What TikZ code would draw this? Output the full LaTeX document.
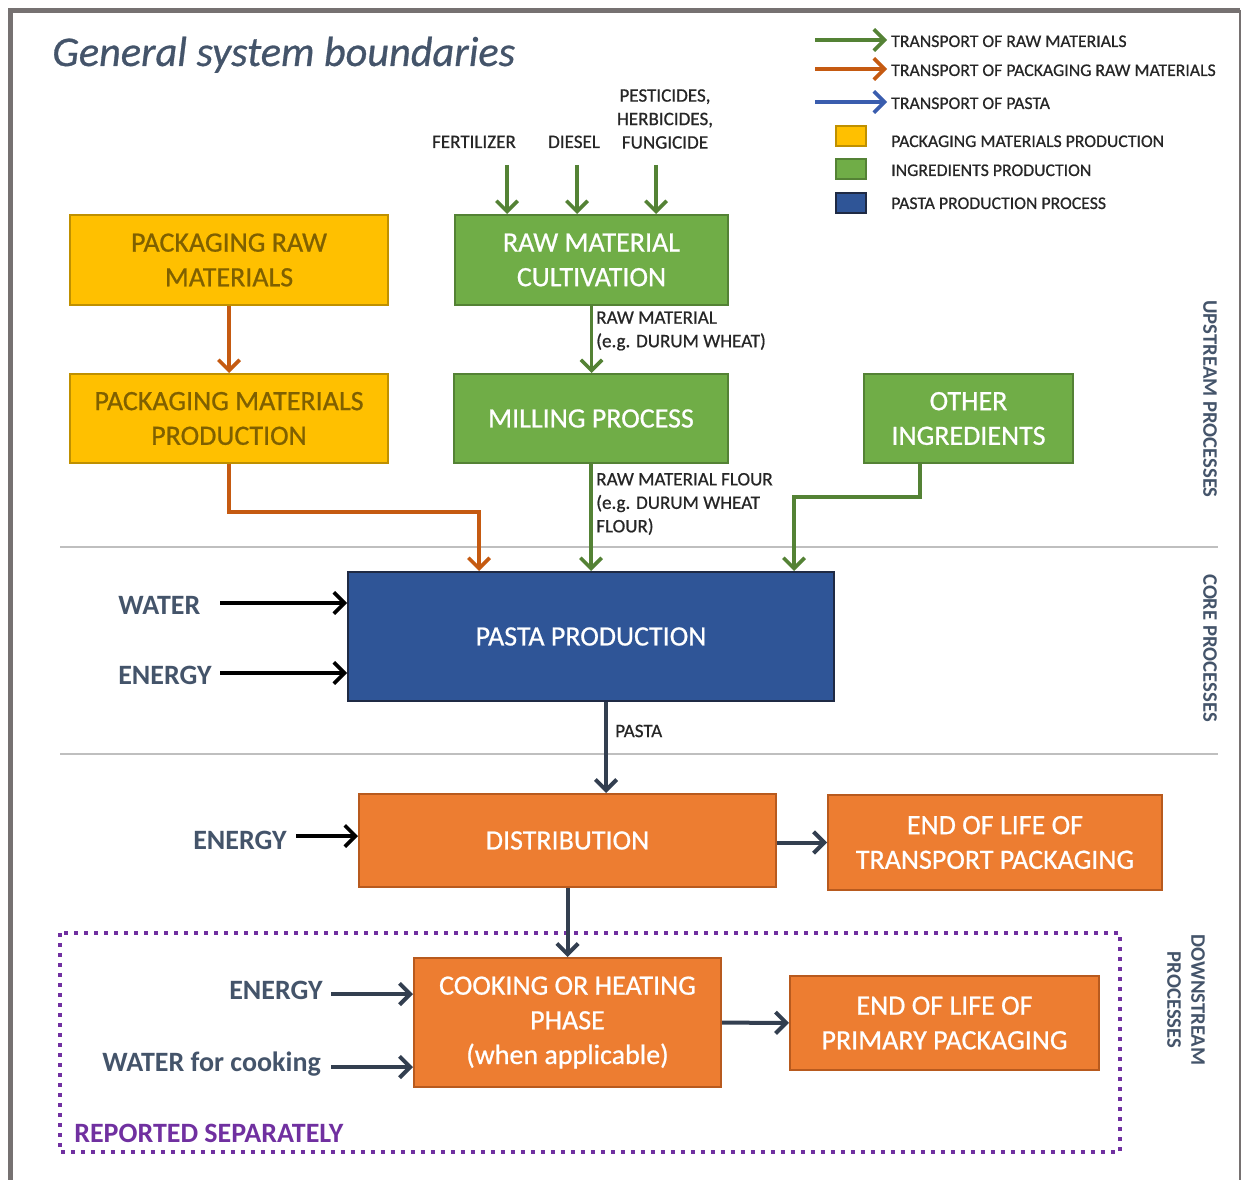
\documentclass[tikz,border=0pt]{standalone}
\usepackage{fontspec}
\setmainfont{Carlito}
\newfontfamily\heavyfont{Carlito}[FakeBold=0.7]
\usetikzlibrary{arrows.meta}

\definecolor{gfill}{HTML}{70AD47}
\definecolor{gline}{HTML}{548235}
\definecolor{yfill}{HTML}{FFC000}
\definecolor{yline}{HTML}{BF9000}
\definecolor{ytext}{HTML}{7F6000}
\definecolor{bfill}{HTML}{2F5597}
\definecolor{bline}{HTML}{1F2A44}
\definecolor{ofill}{HTML}{ED7D31}
\definecolor{oline}{HTML}{B85A1E}
\definecolor{orline}{HTML}{C55A11}
\definecolor{legblue}{HTML}{3A5DAE}
\definecolor{slate}{HTML}{333F50}
\definecolor{slatetext}{HTML}{44546A}
\definecolor{purp}{HTML}{7030A0}
\definecolor{sepgrey}{HTML}{BFBFBF}
\definecolor{framegrey}{HTML}{767171}
\definecolor{darktext}{HTML}{262626}

\tikzset{
  box/.style={draw, line width=1.5pt, inner sep=2pt, align=center, font=\heavyfont\fontsize{21}{26}\selectfont},
  ybox/.style={box, fill=yfill, draw=yline, text=ytext},
  gbox/.style={box, fill=gfill, draw=gline, text=white},
  bbox/.style={box, fill=bfill, draw=bline, text=white},
  obox/.style={box, fill=ofill, draw=oline, text=white},
  flow/.style={line width=2.7pt, -{Straight Barb[length=8pt,width=16pt]}},
  garrow/.style={flow, draw=gline},
  orarrow/.style={flow, draw=orline},
  blarrow/.style={flow, draw=legblue},
  blkarrow/.style={flow, draw=black},
  slarrow/.style={flow, draw=slate, line width=3pt},
  lbl/.style={inner sep=0pt, text=darktext, font=\heavyfont\fontsize{14.3}{17.6}\selectfont},
  leglbl/.style={anchor=base west, inner xsep=3pt, inner ysep=0pt, text=darktext, font=\heavyfont\fontsize{13.3}{16}\selectfont},
  legsq/.style={minimum width=22.5pt, minimum height=15pt, inner sep=0pt, line width=1.5pt},
  inlbl/.style={anchor=base west, inner sep=0pt, text=slatetext, font=\fontsize{21}{25}\selectfont\bfseries},
  sidelbl/.style={rotate=-90, inner sep=0pt, text=slatetext, font=\fontsize{15.5}{18}\selectfont\bfseries},
  sep/.style={draw=sepgrey, line width=2.2pt}
}

\begin{document}
\begin{tikzpicture}[x=0.75pt,y=0.75pt,yscale=-1,xscale=1]
\useasboundingbox (0,0) rectangle (1242,1180);

% Frame
\draw [framegrey, line width=3.75pt] (10,1182) -- (10,10.5) -- (1240,10.5);
\draw [framegrey, line width=1.2pt] (1240,10) -- (1240,1182);

% Title
\node [anchor=base west, inner sep=0pt, text=slatetext, font=\heavyfont\fontsize{31.7}{36}\selectfont\itshape] (title) at (52,66) {General system boundaries};

% Legend
\node [leglbl] (lt1) at (887,47) {TRANSPORT OF RAW MATERIALS};
\node [leglbl] (lt2) at (887,76) {TRANSPORT OF PACKAGING RAW MATERIALS};
\node [leglbl] (lt3) at (887,109) {TRANSPORT OF PASTA};
\node [leglbl] (lt4) at (887,147) {PACKAGING MATERIALS PRODUCTION};
\node [leglbl] (lt5) at (887,176) {INGREDIENTS PRODUCTION};
\node [leglbl] (lt6) at (887,209) {PASTA PRODUCTION PROCESS};
\coordinate (la1) at (815,40);
\coordinate (la2) at (815,69);
\coordinate (la3) at (815,102);
\draw [garrow] (la1) -- (la1 -| lt1.west);
\draw [orarrow] (la2) -- (la2 -| lt2.west);
\draw [blarrow] (la3) -- (la3 -| lt3.west);
\node [legsq, fill=yfill, draw=yline] (ls1) at (851,136) {};
\node [legsq, fill=gfill, draw=gline] (ls2) at (851,169.5) {};
\node [legsq, fill=bfill, draw=bline] (ls3) at (851,203) {};

% Separators
\draw [sep] (60,547) -- (1218,547);
\draw [sep] (60,754) -- (1218,754);

% Reported separately
\draw [purp, line width=3pt, dash pattern=on 3pt off 4.5pt] (60,933) rectangle (1120,1152);
\node [inlbl, text=purp] (repsep) at (74,1142) {REPORTED SEPARATELY};

% Inputs to cultivation
\node [lbl, anchor=base] (fert) at (474,148) {FERTILIZER};
\node [lbl, anchor=base] (dies) at (574,148) {DIESEL};
\node [lbl, align=center] (pest) at (665,119) {PESTICIDES,\\HERBICIDES,\\FUNGICIDE};

% Boxes
\node [ybox, minimum width=238.5pt, minimum height=67.5pt] (pkgraw) at (229,260) {PACKAGING RAW\\MATERIALS};
\node [gbox, minimum width=204.75pt, minimum height=67.5pt] (cultiv) at (591.5,260) {RAW MATERIAL\\CULTIVATION};
\node [ybox, minimum width=238.5pt, minimum height=66.75pt] (pkgprod) at (229,418.5) {PACKAGING MATERIALS\\PRODUCTION};
\node [gbox, minimum width=205.5pt, minimum height=66.75pt] (milling) at (591,418.5) {MILLING PROCESS};
\node [gbox, minimum width=156.75pt, minimum height=66.75pt] (other) at (968.5,418.5) {OTHER\\INGREDIENTS};
\node [bbox, minimum width=364.5pt, minimum height=96.75pt] (pasta) at (591,636.5) {PASTA PRODUCTION};
\node [obox, minimum width=312.75pt, minimum height=69.75pt] (distr) at (567.5,840.5) {DISTRIBUTION};
\node [obox, minimum width=250.5pt, minimum height=71.25pt] (eolt) at (995,842.5) {END OF LIFE OF\\TRANSPORT PACKAGING};
\node [obox, minimum width=230.25pt, minimum height=96.75pt] (cook) at (567.5,1022.5) {COOKING OR HEATING\\PHASE\\(when applicable)};
\node [obox, minimum width=231.75pt, minimum height=70.5pt] (eolp) at (944.5,1023) {END OF LIFE OF\\PRIMARY PACKAGING};

% Upstream connectors
\coordinate (fin) at (507,165);
\coordinate (din) at (577,165);
\coordinate (pin) at (656,165);
\draw [garrow] (fin) -- (fin |- cultiv.north);
\draw [garrow] (din) -- (din |- cultiv.north);
\draw [garrow] (pin) -- (pin |- cultiv.north);
\draw [orarrow] (pkgraw) -- (pkgprod);
\draw [garrow] (cultiv.south) -- (cultiv.south |- milling.north);
\draw [garrow] (milling) -- (pasta);
\coordinate (pk) at (479,512);
\draw [orarrow] (pkgprod.south) |- (pk) -- (pk |- pasta.north);
\coordinate (oi) at (920,497);
\coordinate (oj) at (794,497);
\draw [garrow] (other.south -| oi) -- (oi) -- (oj) -- (oj |- pasta.north);
\node [lbl, anchor=west, align=left] (rawlbl) at (596,331) {RAW MATERIAL\\(e.g. DURUM WHEAT)};
\node [lbl, anchor=west, align=left] (flourlbl) at (596,504) {RAW MATERIAL FLOUR\\(e.g. DURUM WHEAT\\FLOUR)};

% Core inputs
\node [inlbl] (water) at (118,614) {WATER};
\node [inlbl] (energya) at (118,684) {ENERGY};
\coordinate (wa) at (220,603);
\coordinate (ea) at (220,673);
\draw [blkarrow] (wa) -- (wa -| pasta.west);
\draw [blkarrow] (ea) -- (ea -| pasta.west);

% Downstream connectors
\coordinate (pd) at (606,701);
\draw [slarrow] (pd |- pasta.south) -- (pd |- distr.north);
\node [lbl, anchor=west] (pastalbl) at (615,731) {PASTA};
\node [inlbl] (energyb) at (193,849) {ENERGY};
\coordinate (eb) at (296,836);
\draw [blkarrow] (eb) -- (eb -| distr.west);
\draw [slarrow] (distr.east |- eolt) -- (eolt.west);
\draw [slarrow] (distr) -- (cook);
\draw [slarrow] (cook) -- (eolp);
\node [inlbl] (energyc) at (229,999) {ENERGY};
\node [inlbl] (waterc) at (102,1071) {WATER for cooking};
\coordinate (ec) at (331,994);
\coordinate (wc) at (331,1067);
\draw [slarrow] (ec) -- (ec -| cook.west);
\draw [slarrow] (wc) -- (wc -| cook.west);

% Side labels
\node [sidelbl] (ups) at (1210,399) {UPSTREAM PROCESSES};
\node [sidelbl] (core) at (1210,648) {CORE PROCESSES};
\node [sidelbl, align=center] (downs) at (1186,1000) {DOWNSTREAM\\PROCESSES};
\end{tikzpicture}
\end{document}
